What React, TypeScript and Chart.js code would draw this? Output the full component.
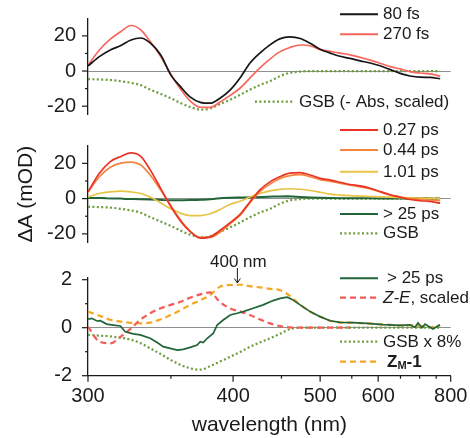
import React, { useEffect, useRef } from "react";
import { Chart, LinearScale, registerables } from "chart.js";

// Reciprocal (energy-like) wavelength axis: pixel is linear in 1/lambda
class ReciprocalScale extends (LinearScale as any) {
  static id = "reciprocal";
  static defaults = { ...((LinearScale as any).defaults || {}) };
  getPixelForValue(value: number) {
    if (value === null || value === undefined) return NaN;
    const a = 1 / this.min;
    const b = 1 / this.max;
    return this.getPixelForDecimal((a - 1 / value) / (a - b));
  }
  getValueForPixel(pixel: number) {
    const a = 1 / this.min;
    const b = 1 / this.max;
    const t = this.getDecimalForPixel(pixel);
    return 1 / (a - t * (a - b));
  }
}
Chart.register(...registerables, ReciprocalScale as any);

// ---------------- data ----------------
const WL = [300, 306, 312, 318, 324, 330, 336, 343, 350, 357, 364, 372, 380, 388, 397, 407, 416, 426, 437, 448, 460, 473, 486, 500, 515, 530, 547, 565, 584, 604, 626, 649, 674, 701, 731, 763];

// panel 1
const FS80 = [2.9, 8.2, 12, 14.5, 17.7, 18.8, 16.0, 9.1, -2.3, -9, -14.7, -17.8, -18.3, -15.6, -11, -3.5, 4.4, 10.1, 14.9, 18.3, 19.4, 18.5, 15.8, 12.4, 10.2, 8.4, 7.2, 5.8, 4.6, 3.0, 0.8, -1.3, -2.8, -3.5, -3.6, -4.4];
const FS270 = [3.4, 12, 18.1, 22.5, 25.9, 23.4, 16.8, 8.2, -2, -10.3, -16.9, -20.6, -20.7, -17.8, -14, -9.5, -4, 1.7, 6.8, 10.9, 13.4, 14.8, 14.4, 12.2, 11.2, 10.2, 9.2, 7.8, 6.2, 4.4, 2.5, 1.2, -0.3, -1.1, -1.6, -2.9];
const GSB = [-4.6, -4.8, -5.1, -5.8, -6.7, -8, -10.5, -13, -15.5, -18.2, -20.4, -21.9, -21.3, -18.9, -16.4, -13.4, -10.6, -8, -5.8, -3, -1, -0.3, 0, 0, 0, 0, 0, 0, 0, 0, 0, 0, 0, 0, 0, 0];

// panel 2
const PS027 = [3.8, 14.4, 21, 23.9, 25.9, 23.9, 16.3, 5.7, -4.5, -12.8, -18.6, -22.4, -21.7, -18.2, -13.8, -8.6, -1.9, 4.8, 9.5, 12.4, 14.4, 14.7, 13.4, 11.5, 10.5, 9.3, 8, 7.2, 5.9, 4, 2.2, 0.9, -0.5, -1.2, -1.6, -2.6];
const PS044 = [3.8, 12.4, 17.8, 20.1, 20.7, 19.1, 13.4, 4.8, -4.2, -12.3, -18.5, -22, -22, -19.2, -14.4, -9.2, -2.5, 3.8, 8.2, 11.3, 13, 13.6, 12.4, 10.8, 9.8, 8.8, 7.6, 6.7, 5.5, 3.8, 2, 0.8, 0, -0.5, -0.8, -1.2];
const PS101 = [0.9, 2.9, 3.8, 4.2, 3.8, 2.9, 0.9, -2.5, -5.7, -8.3, -9.6, -9.6, -8.6, -6.3, -3.3, -1.4, 0.9, 2.9, 4.4, 5.2, 5.6, 5.3, 4.6, 3.6, 2.5, 2, 1.7, 1.4, 1.2, 1, 0.8, 0.6, 0.4, 0.3, 0.1, 0];

// > 25 ps (own, finer wavelength grid)
const WL_LATE = [300, 302, 304.7, 306.5, 310, 313.7, 317.7, 320.6, 325.4, 329.7, 336, 340.6, 344.7, 349.5, 354.5, 358.9, 364.1, 369.5, 371.9, 374.3, 377.6, 382.5, 385.9, 391.1, 397.4, 403.8, 409.5, 419.4, 429.7, 440.6, 448.5, 456.7, 462.8, 472.8, 486, 500, 514.7, 530.4, 552.3, 577.9, 610.3, 649, 674, 687.3, 695.6, 706.9, 715.6, 730.6, 739.9, 752.7, 762.6];
const LATE = [0.36, 0.39, 0.28, 0.29, 0.15, 0.11, 0.07, -0.17, -0.26, -0.3, -0.44, -0.62, -0.79, -0.86, -0.93, -0.9, -0.82, -0.72, -0.58, -0.62, -0.44, -0.24, 0.11, 0.32, 0.53, 0.6, 0.67, 0.81, 0.95, 1.13, 1.22, 1.27, 1.18, 0.95, 0.67, 0.46, 0.29, 0.22, 0.21, 0.18, 0.13, 0.1, 0.12, 0.02, 0.2, 0.0, 0.15, 0.02, -0.05, 0.05, 0.12];

// panel 3
const ZE = [0.04, -0.58, -0.65, -0.37, -0.03, 0.35, 0.6, 0.81, 0.95, 1.08, 1.25, 1.39, 1.47, 1.08, 0.81, 0.67, 0.53, 0.35, 0.18, 0.07, 0.01, 0, 0, 0, 0, 0, 0, null, null, null, null, null, null, null, null, null];
const GSB8 = [-0.3, -0.33, -0.36, -0.42, -0.5, -0.65, -0.86, -1.1, -1.35, -1.55, -1.69, -1.75, -1.6, -1.42, -1.22, -1.0, -0.8, -0.62, -0.44, -0.26, -0.06, 0, 0, 0, 0, 0, 0, 0, 0, 0, 0, 0, 0, 0, 0, 0];
const ZM1 = [0.67, 0.5, 0.33, 0.25, 0.2, 0.18, 0.21, 0.35, 0.53, 0.74, 0.95, 1.15, 1.36, 1.7, 1.78, 1.79, 1.73, 1.68, 1.62, 1.57, 1.33, 0.95, 0.67, 0.46, 0.29, 0.22, 0.21, 0.19, 0.17, 0.14, 0.12, 0.1, 0.1, 0.08, 0.03, 0.1];

// axes
const X_TICKS = [300, 350, 400, 450, 500, 550, 600, 650, 700, 750, 800];
const X_LABELED = [300, 400, 500, 600, 800];
const Y_BIG_MAJOR = [-20, 0, 20];
const Y_BIG_MINOR = [-10, 10];
const Y_SMALL_MAJOR = [-2, 0, 2];
const Y_SMALL_MINOR = [-1, 1];
const ARROW_WL = 404;

// ---------------- styling ----------------
const FONT = "'Liberation Sans', Arial, Helvetica, sans-serif";
const INK = "#1b1b1b";
const ZERO = "#8f8f8f";
const W = 470;
const H = 438;
const AXIS_LEFT = 88;
const PAD_RIGHT = 19.3;

const C = {
  black: "#161616",
  salmon: "#f8675e",
  red: "#ea3324",
  orange: "#f5843f",
  yellow: "#e9c344",
  green: "#22643a",
  olive: "#6c9c3c",
  zeRed: "#f65a55",
  zmOrange: "#f6a623",
};

const pts = (xs: number[], ys: (number | null)[]) => xs.map((x, i) => ({ x, y: ys[i] }));

const solid = (label: string, xs: number[], ys: (number | null)[], color: string, smooth = true, width = 1.7) => ({
  label,
  data: pts(xs, ys),
  borderColor: color,
  backgroundColor: color,
  borderWidth: width,
  pointRadius: 0,
  fill: false,
  tension: smooth ? 0.4 : 0,
  cubicInterpolationMode: smooth ? "monotone" : "default",
});
const dotted = (label: string, xs: number[], ys: (number | null)[], color: string) => ({
  ...solid(label, xs, ys, color, true, 2.2),
  borderDash: [2, 2.4],
  borderCapStyle: "butt",
});
const dashed = (label: string, xs: number[], ys: (number | null)[], color: string) => ({
  ...solid(label, xs, ys, color, true, 2.2),
  borderDash: [6, 4],
  borderCapStyle: "butt",
});

type Part = { t: string; bold?: boolean; italic?: boolean; size?: number; dy?: number };
type LegItem = { ds: number; y: number; x1: number; x2: number; tx: number; parts: Part[] };

function drawParts(ctx: CanvasRenderingContext2D, parts: Part[], x: number, y: number) {
  let cx = x;
  for (const p of parts) {
    const size = p.size ?? 17;
    ctx.font = `${p.italic ? "italic " : ""}${p.bold ? "bold " : ""}${size}px ${FONT}`;
    ctx.fillText(p.t, cx, y + (p.dy ?? 0));
    cx += ctx.measureText(p.t).width;
  }
}

function decorPlugin(cfg: {
  yMajor: number[];
  yMinor: number[];
  xAxis: boolean;
  legend: LegItem[];
  arrow?: boolean;
}) {
  return {
    id: "decor",
    afterDraw(chart: any) {
      const ctx: CanvasRenderingContext2D = chart.ctx;
      const area = chart.chartArea;
      const ys = chart.scales.y;
      const xs = chart.scales.x;
      ctx.save();
      ctx.strokeStyle = INK;
      ctx.lineWidth = 1.2;
      const seg = (x1: number, y1: number, x2: number, y2: number) => {
        ctx.beginPath();
        ctx.moveTo(x1, y1);
        ctx.lineTo(x2, y2);
        ctx.stroke();
      };
      cfg.yMajor.forEach((v) => {
        const p = ys.getPixelForValue(v);
        seg(area.left - 6, p, area.left, p);
      });
      cfg.yMinor.forEach((v) => {
        const p = ys.getPixelForValue(v);
        seg(area.left - 3, p, area.left, p);
      });
      if (cfg.xAxis) {
        X_TICKS.forEach((v) => {
          const p = xs.getPixelForValue(v);
          const len = X_LABELED.includes(v) ? 6 : 3;
          seg(p, area.bottom, p, area.bottom + len);
        });
      }
      // legend
      ctx.textBaseline = "middle";
      ctx.textAlign = "left";
      for (const it of cfg.legend) {
        const ds = chart.data.datasets[it.ds];
        ctx.save();
        ctx.strokeStyle = ds.borderColor;
        ctx.lineWidth = Math.max(ds.borderWidth, 2);
        ctx.setLineDash(ds.borderDash || []);
        ctx.lineCap = "butt";
        seg(it.x1, it.y, it.x2, it.y);
        ctx.restore();
        ctx.fillStyle = INK;
        drawParts(ctx, it.parts, it.tx, it.y + 0.5);
      }
      if (cfg.arrow) {
        const ax = xs.getPixelForValue(ARROW_WL);
        ctx.fillStyle = INK;
        ctx.textAlign = "center";
        ctx.font = `17px ${FONT}`;
        ctx.fillText("400 nm", ax + 1, 262.5);
        ctx.lineWidth = 1;
        seg(ax, 268, ax, 283);
        ctx.beginPath();
        ctx.moveTo(ax - 3, 278.5);
        ctx.lineTo(ax, 283);
        ctx.lineTo(ax + 3, 278.5);
        ctx.stroke();
      }
      ctx.restore();
    },
  };
}

const noPad = (s: any) => {
  s.paddingLeft = 0;
  s.paddingRight = 0;
  s.paddingTop = 0;
  s.paddingBottom = 0;
};

function yScale(min: number, max: number, major: number[], pad: number, title?: string) {
  return {
    type: "linear",
    position: "left",
    min,
    max,
    bounds: "data",
    afterBuildTicks: (s: any) => {
      s.ticks = major.map((v) => ({ value: v }));
    },
    afterFit: (s: any) => {
      s.width = AXIS_LEFT;
      noPad(s);
    },
    ticks: {
      font: { family: FONT, size: 20 },
      color: INK,
      padding: pad,
      callback: (v: any) => `${v}`,
    },
    grid: {
      drawTicks: false,
      lineWidth: 1,
      color: (c: any) => (c.tick && c.tick.value === 0 ? ZERO : "rgba(0,0,0,0)"),
    },
    border: { display: true, color: INK, width: 1.3 },
    title: title
      ? {
          display: true,
          text: title,
          color: INK,
          font: { family: FONT, size: 21 },
          padding: { top: 13.5, bottom: 0 },
        }
      : { display: false },
  };
}

function hiddenX() {
  return { type: "reciprocal", min: 300, max: 800, bounds: "data", display: false };
}

function shownX() {
  return {
    type: "reciprocal",
    position: "bottom",
    min: 300,
    max: 800,
    bounds: "data",
    afterBuildTicks: (s: any) => {
      s.ticks = X_TICKS.map((v) => ({ value: v }));
    },
    afterFit: (s: any) => {
      s.height = H - 375.7;
      noPad(s);
    },
    ticks: {
      autoSkip: false,
      maxRotation: 0,
      minRotation: 0,
      padding: 9,
      color: INK,
      font: { family: FONT, size: 20 },
      callback: (v: any) => (X_LABELED.includes(v) ? `${v}` : ""),
    },
    grid: { drawOnChartArea: false, drawTicks: false },
    border: { display: true, color: INK, width: 1.3 },
    title: {
      display: true,
      text: "wavelength (nm)",
      color: INK,
      font: { family: FONT, size: 21 },
      padding: { top: 0, bottom: 0 },
    },
  };
}

function baseOptions(top: number, bottom: number, scales: any) {
  return {
    responsive: false,
    animation: false,
    events: [],
    layout: { padding: { left: 0, right: PAD_RIGHT, top, bottom } },
    plugins: { legend: { display: false }, tooltip: { enabled: false } },
    scales,
  };
}

const LX1 = 340;
const LX2 = 378;
const LTX = 383;

export default function App() {
  const r1 = useRef<HTMLCanvasElement>(null);
  const r2 = useRef<HTMLCanvasElement>(null);
  const r3 = useRef<HTMLCanvasElement>(null);

  useEffect(() => {
    const c1 = new Chart(r1.current as HTMLCanvasElement, {
      type: "line",
      data: {
        datasets: [
          solid("80 fs", WL, FS80, C.black),
          solid("270 fs", WL, FS270, C.salmon),
          dotted("GSB (- Abs, scaled)", WL, GSB, C.olive),
        ] as any,
      },
      options: baseOptions(18.3, H - 115, { x: hiddenX(), y: yScale(-25, 30, Y_BIG_MAJOR, 12) }) as any,
      plugins: [
        decorPlugin({
          yMajor: Y_BIG_MAJOR,
          yMinor: Y_BIG_MINOR,
          xAxis: false,
          legend: [
            { ds: 0, y: 14.3, x1: LX1, x2: LX2, tx: LTX, parts: [{ t: "80 fs" }] },
            { ds: 1, y: 34.3, x1: LX1, x2: LX2, tx: LTX, parts: [{ t: "270 fs" }] },
            { ds: 2, y: 101.7, x1: 255, x2: 293, tx: 299, parts: [{ t: "GSB (- Abs, scaled)" }] },
          ],
        }) as any,
      ],
    });

    const c2 = new Chart(r2.current as HTMLCanvasElement, {
      type: "line",
      data: {
        datasets: [
          solid("0.27 ps", WL, PS027, C.red),
          solid("0.44 ps", WL, PS044, C.orange),
          solid("1.01 ps", WL, PS101, C.yellow),
          solid("> 25 ps", WL_LATE, LATE, C.green, false, 2),
          dotted("GSB", WL, GSB, C.olive),
        ] as any,
      },
      options: baseOptions(145.7, H - 242.7, {
        x: hiddenX(),
        y: yScale(-25, 30, Y_BIG_MAJOR, 12, "ΔA (mOD)"),
      }) as any,
      plugins: [
        decorPlugin({
          yMajor: Y_BIG_MAJOR,
          yMinor: Y_BIG_MINOR,
          xAxis: false,
          legend: [
            { ds: 0, y: 130, x1: LX1, x2: LX2, tx: LTX, parts: [{ t: "0.27 ps" }] },
            { ds: 1, y: 150, x1: LX1, x2: LX2, tx: LTX, parts: [{ t: "0.44 ps" }] },
            { ds: 2, y: 171.7, x1: LX1, x2: LX2, tx: LTX, parts: [{ t: "1.01 ps" }] },
            { ds: 3, y: 214, x1: LX1, x2: LX2, tx: LTX, parts: [{ t: "> 25 ps" }] },
            { ds: 4, y: 233.3, x1: LX1, x2: LX2, tx: LTX, parts: [{ t: "GSB" }] },
          ],
        }) as any,
      ],
    });

    const c3 = new Chart(r3.current as HTMLCanvasElement, {
      type: "line",
      data: {
        datasets: [
          solid("> 25 ps", WL_LATE, LATE, C.green, false, 1.7),
          dashed("Z-E, scaled", WL, ZE, C.zeRed),
          dotted("GSB x 8%", WL, GSB8, C.olive),
          dashed("ZM-1", WL, ZM1, C.zmOrange),
        ] as any,
      },
      options: baseOptions(277.3, 0, { x: shownX(), y: yScale(-2, 2.1, Y_SMALL_MAJOR, 16) }) as any,
      plugins: [
        decorPlugin({
          yMajor: Y_SMALL_MAJOR,
          yMinor: Y_SMALL_MINOR,
          xAxis: true,
          arrow: true,
          legend: [
            { ds: 0, y: 278.3, x1: LX1, x2: LX2, tx: 387, parts: [{ t: "> 25 ps" }] },
            {
              ds: 1,
              y: 297.7,
              x1: LX1,
              x2: LX2,
              tx: LTX,
              parts: [{ t: "Z-E", italic: true }, { t: ", scaled" }],
            },
            { ds: 2, y: 341.7, x1: LX1, x2: LX2, tx: LTX, parts: [{ t: "GSB x 8%" }] },
            {
              ds: 3,
              y: 361.7,
              x1: LX1,
              x2: LX2,
              tx: 387,
              parts: [
                { t: "Z", bold: true },
                { t: "M", bold: true, size: 11, dy: 4 },
                { t: "-1", bold: true },
              ],
            },
          ],
        }) as any,
      ],
    });

    return () => {
      c1.destroy();
      c2.destroy();
      c3.destroy();
    };
  }, []);

  const cv: React.CSSProperties = { position: "absolute", left: 0, top: 0, width: W, height: H };
  return (
    <div
      style={{
        position: "fixed",
        left: 0,
        top: 0,
        width: W,
        height: H,
        background: "#ffffff",
        overflow: "hidden",
      }}
    >
      <canvas ref={r1} width={W} height={H} style={cv} />
      <canvas ref={r2} width={W} height={H} style={cv} />
      <canvas ref={r3} width={W} height={H} style={cv} />
    </div>
  );
}
